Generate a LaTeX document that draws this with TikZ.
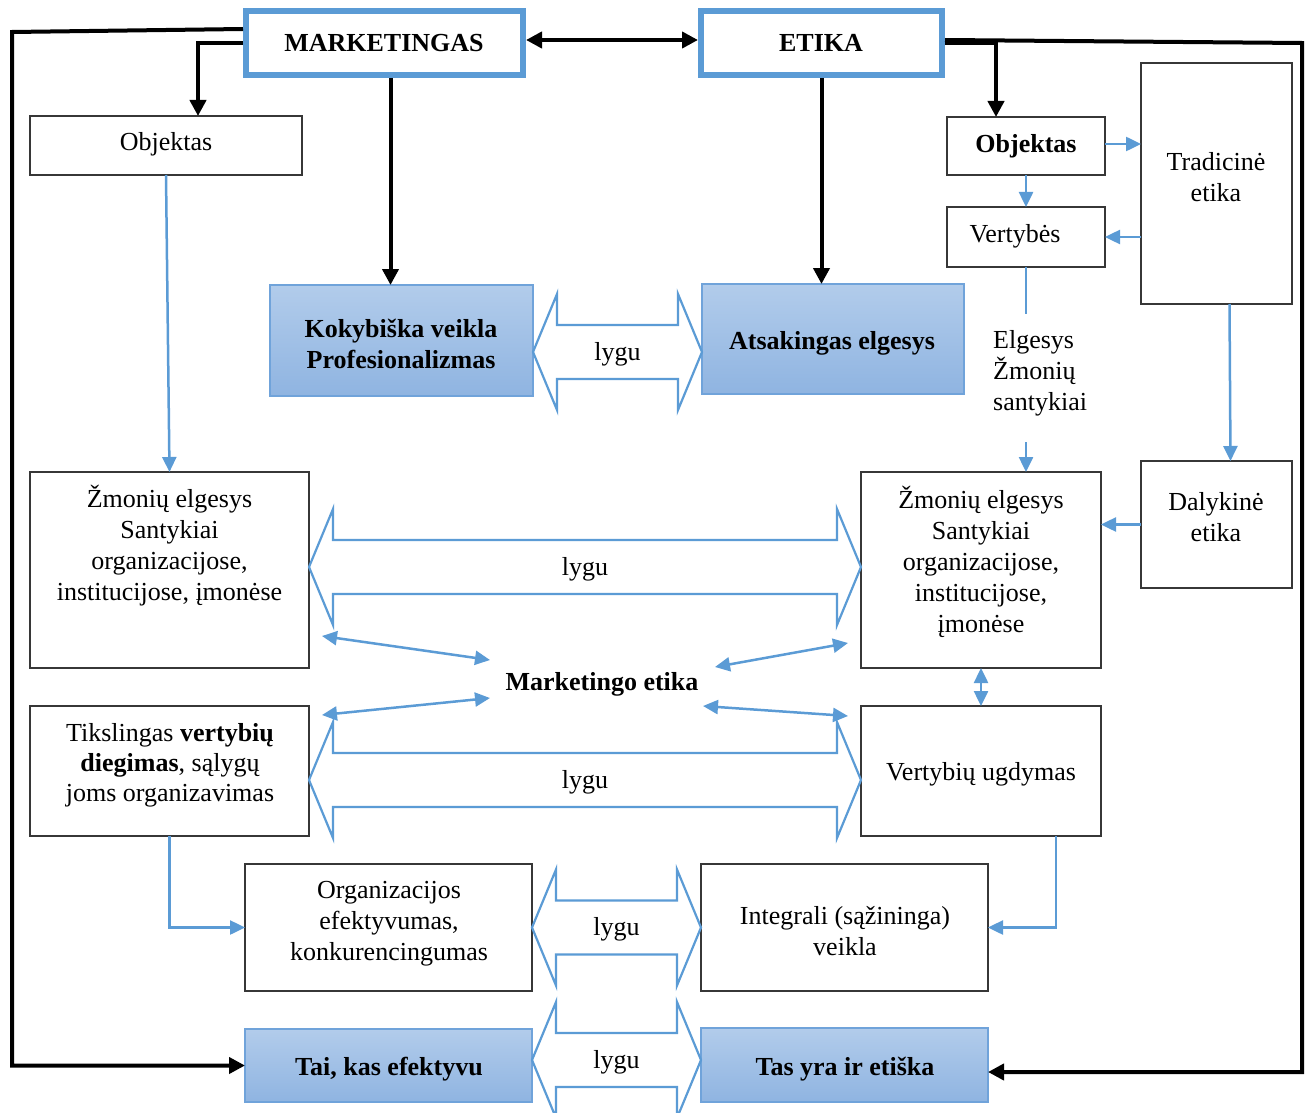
\documentclass[tikz,border=0pt]{standalone}
\usepackage{fontspec}
\setmainfont{Liberation Serif}
\usetikzlibrary{arrows.meta,calc}

\definecolor{lineblue}{RGB}{91,155,213}
\definecolor{fillhi}{RGB}{178,204,235}
\definecolor{filllo}{RGB}{143,180,225}
\definecolor{edgeblue}{RGB}{112,163,218}
\definecolor{boxedge}{RGB}{55,55,55}

\tikzset{
  box/.style={draw=boxedge, line width=1.4pt, fill=white, inner sep=0pt, outer sep=0pt, anchor=north west},
  keybox/.style={draw=edgeblue, line width=1.5pt, top color=fillhi, bottom color=filllo, inner sep=0pt, outer sep=0pt, anchor=north west},
  headbox/.style={draw=lineblue, line width=6pt, fill=white, inner sep=0pt, outer sep=3pt, anchor=north west},
  txt/.style={inner sep=0pt, align=center, yshift=-2pt, font=\fontsize{26}{31}\selectfont},
  btxt/.style={txt, font=\fontsize{26}{31}\selectfont\bfseries},
  blkline/.style={draw=black, line width=4pt},
  blk/.style={blkline, -{Triangle[length=16pt,width=16pt]}},
  blkboth/.style={blkline, {Triangle[length=16pt,width=16pt]}-{Triangle[length=16pt,width=16pt]}},
  bline/.style={draw=lineblue, line width=2.5pt},
  barrow/.style={bline, -{Triangle[length=15pt,width=14pt]}},
  bboth/.style={bline, {Triangle[length=15pt,width=14pt]}-{Triangle[length=15pt,width=14pt]}},
  fat/.style={draw=lineblue, line width=2.2pt, fill=white, line join=miter},
}

% box helper: style, name, top-left x, top-left y, width, height
\newcommand\boxnode[6]{\node[#1, minimum width=#5pt, minimum height=#6pt] (#2) at (#3,#4) {};}

% hollow double-headed "lygu" arrow between two boxes
\newcommand\lygu[4]{%
  \coordinate (#4L) at ($(#1.east)+(0,#3)$);
  \coordinate (#4R) at (#4L -| #2.west);
  \draw[fat] (#4L) -- ++(24,-58) -- ++(0,31) -- ($(#4R)+(-24,-27)$) -- ++(0,-31) -- (#4R)
     -- ++(-24,58) -- ++(0,-31) -- ($(#4L)+(24,27)$) -- ++(0,31) -- cycle;
  \node[txt] (#4) at ($(#4L)!0.5!(#4R)$) {lygu};
}

\begin{document}
\begin{tikzpicture}[x=1pt,y=-1pt]
\useasboundingbox (0,0) rectangle (1310,1113);

% ---- boxes ----
\boxnode{headbox}{mark}{243}{8}{277}{64}
\boxnode{headbox}{etika}{698}{8}{241}{64}
\boxnode{box}{objL}{30}{116}{272}{59}
\boxnode{keybox}{kok}{270}{285}{263}{111}
\boxnode{keybox}{ats}{702}{284}{262}{110}
\boxnode{box}{objR}{947}{117}{158}{58}
\boxnode{box}{vert}{947}{207}{158}{60}
\boxnode{box}{trad}{1141}{63}{151}{241}
\boxnode{box}{dal}{1141}{461}{151}{127}
\boxnode{box}{zmL}{30}{472}{279}{196}
\boxnode{box}{zmR}{861}{472}{240}{196}
\boxnode{box}{tik}{30}{706}{279}{130}
\boxnode{box}{vu}{861}{706}{240}{130}
\boxnode{box}{org}{245}{864}{287}{127}
\boxnode{box}{int}{701}{864}{287}{127}
\boxnode{keybox}{tai}{245}{1029}{287}{73}
\boxnode{keybox}{tas}{701}{1028}{287}{74}

% ---- texts ----
\node[btxt] (mark-t) at (384,41) {MARKETINGAS};
\node[btxt] (etika-t) at (821,41) {ETIKA};
\node[txt] (objL-t) at (166,142) {Objektas};
\node[btxt] (kok-t) at (401,342) {Kokybiška veikla\\Profesionalizmas};
\node[btxt] (ats-t) at (832,341) {Atsakingas elgesys};
\node[btxt] (objR-t) at (1026,144) {Objektas};
\node[txt] (vert-t) at (1015,234) {Vertybės};
\node[txt] (trad-t) at (1216,175) {Tradicinė\\etika};
\node[txt, align=left, anchor=west] (elg) at (993,371) {Elgesys\\Žmonių\\santykiai};
\node[txt] (dal-t) at (1216,515) {Dalykinė\\etika};
\node[txt] (zmL-t) at (169.5,544) {Žmonių elgesys\\Santykiai\\organizacijose,\\institucijose, įmonėse};
\node[txt] (zmR-t) at (981,560) {Žmonių elgesys\\Santykiai\\organizacijose,\\institucijose,\\įmonėse};
\node[txt, font=\fontsize{26}{30}\selectfont] (tik-t) at (170,763) {Tikslingas \textbf{vertybių}\\\textbf{diegimas}, sąlygų\\joms organizavimas};
\node[txt] (vu-t) at (981,772) {Vertybių ugdymas};
\node[txt] (org-t) at (389,922) {Organizacijos\\efektyvumas,\\konkurencingumas};
\node[txt] (int-t) at (845,929) {Integrali (sąžininga)\\veikla};
\node[btxt] (tai-t) at (389,1067) {Tai, kas efektyvu};
\node[btxt] (tas-t) at (845,1067) {Tas yra ir etiška};
\node[btxt] (me) at (602,682) {Marketingo etika};

% ---- "lygu" equivalence arrows ----
\lygu{kok}{ats}{11.5}{f1}
\lygu{zmL}{zmR}{-3}{f2}
\lygu{tik}{vu}{9}{f3}
\lygu{org}{int}{0}{f4}
\lygu{tai}{tas}{-5.5}{f5}

% ---- black connectors ----
\coordinate (cTL) at (12,32);
\coordinate (cTR) at (1302,43);
\coordinate (ms) at ($(mark.south)+(6,0)$);
\draw[blkboth] ($(mark.east)+(0,-3)$) -- ($(etika.west)+(0,-3)$);
\draw[blk] ($(mark.west)+(0,-14)$) -- (cTL) |- (tai.west);
\draw[blk] (mark.west) -| ($(objL.north)+(32,0)$);
\draw[blk] (ms) -- (ms |- kok.north);
\draw[blk] (etika.south) -- (etika.south |- ats.north);
\draw[blk] ($(etika.east)+(0,-3)$) -- (cTR) |- ($(tas.east)+(0,7)$);
\draw[blk] (etika.east) -| ($(objR.north)+(-30,0)$);

% ---- blue connectors ----
\draw[barrow] ($(objR.east)+(0,-2)$) -- ($(objR.east -| trad.west)+(0,-2)$);
\draw[barrow] (objR.south) -- (vert.north);
\draw[barrow] (vert.east -| trad.west) -- (vert.east);
\coordinate (elgIn) at (1026,314);
\coordinate (elgOut) at (1026,442);
\draw[bline] (vert.south) -- (elgIn);
\draw[barrow] (elgOut) -- (elgOut |- zmR.north);
\draw[barrow] ($(trad.south)+(13,0)$) -- ($(dal.north)+(14,0)$);
\draw[barrow] (dal.west) -- (dal.west -| zmR.east);
\draw[barrow] (objL.south) -- (zmL.north);
\draw[bboth] (zmR.south) -- (vu.north);
\draw[barrow] (tik.south) |- (org.west);
\draw[barrow] ($(vu.south)+(75,0)$) |- (int.east);

% arrows around "Marketingo etika"
\coordinate (a1) at (322,636); \coordinate (a2) at (490,660);
\coordinate (b1) at (715,667); \coordinate (b2) at (848,643);
\coordinate (c1) at (322,715); \coordinate (c2) at (490,698);
\coordinate (d1) at (703,706); \coordinate (d2) at (848,716);
\draw[bboth] (a1) -- (a2);
\draw[bboth] (b1) -- (b2);
\draw[bboth] (c1) -- (c2);
\draw[bboth] (d1) -- (d2);
\end{tikzpicture}
\end{document}
